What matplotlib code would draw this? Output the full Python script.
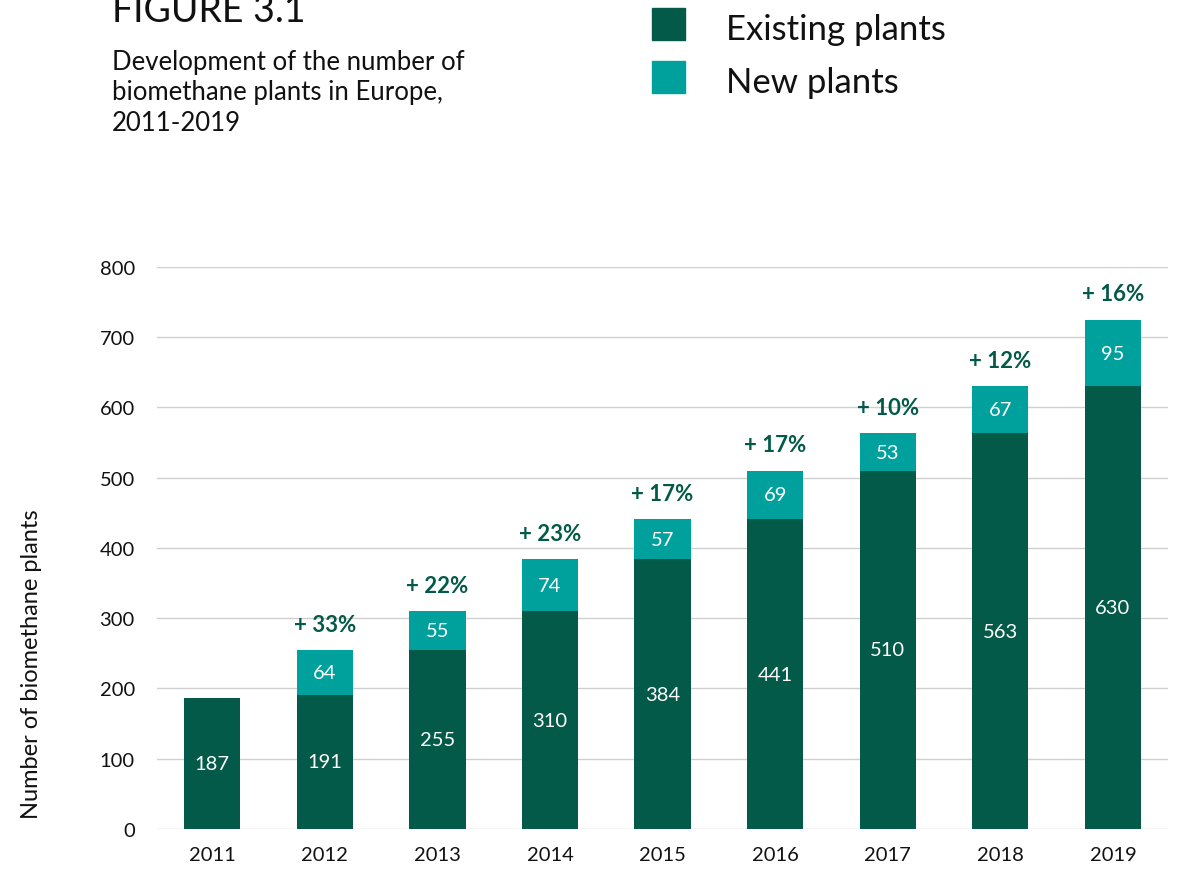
import matplotlib
matplotlib.use("Agg")
import matplotlib.pyplot as plt
from matplotlib.patches import Rectangle
import numpy as np

plt.rcParams['font.family'] = ['Lato', 'DejaVu Sans']

years = ["2011", "2012", "2013", "2014", "2015", "2016", "2017", "2018", "2019"]
existing = [187, 191, 255, 310, 384, 441, 510, 563, 630]
new = [0, 64, 55, 74, 57, 69, 53, 67, 95]
growth = ["", "+ 33%", "+ 22%", "+ 23%", "+ 17%", "+ 17%", "+ 10%", "+ 12%", "+ 16%"]
yticks = [0, 100, 200, 300, 400, 500, 600, 700, 800]

DARK = "#035a48"
TEAL = "#00a19d"
INK = "#111111"

fig = plt.figure(figsize=(11.77, 8.70), dpi=100)
ax = fig.add_axes([0.1334, 0.046, 0.859, 0.646])

x = np.arange(len(years))
w = 0.5
ax.bar(x, existing, width=w, color=DARK, zorder=3)
ax.bar(x, new, width=w, bottom=existing, color=TEAL, zorder=3)

for i in range(len(years)):
    ax.text(x[i], existing[i] / 2, str(existing[i]), ha="center", va="center",
            color="white", fontsize=14.5, zorder=4)
    if new[i]:
        ax.text(x[i], existing[i] + new[i] / 2, str(new[i]), ha="center", va="center",
                color="white", fontsize=14.5, zorder=4)
    if growth[i]:
        # growth label sits just above the stacked bar
        ax.annotate(growth[i], (x[i], existing[i] + new[i]), xytext=(0, 11),
                    textcoords="offset points", ha="center", va="bottom",
                    color=DARK, fontsize=16, fontweight="bold", annotation_clip=False)

ax.set_xlim(-0.49, 8.49)
ax.set_ylim(0, 800)
ax.set_yticks(yticks)
ax.set_xticks(x)
ax.set_xticklabels(years)
ax.tick_params(axis="both", length=0, labelsize=14.5, colors=INK)
ax.tick_params(axis="y", pad=16)
ax.tick_params(axis="x", pad=12)
ax.grid(axis="y", color="#cfcfcf", linewidth=1, zorder=0)
for s in ax.spines.values():
    s.set_visible(False)

fig.text(0.027, 0.236, "Number of biomethane plants", rotation=90, ha="center",
         va="center", fontsize=17, color=INK)

# header
fig.text(0.095, 0.975, "FIGURE 3.1", fontsize=27, color=INK, va="baseline")
fig.text(0.095, 0.943, "Development of the number of\nbiomethane plants in Europe,\n2011-2019",
         fontsize=18.5, color=INK, va="top", linespacing=1.28)

# legend
fig.add_artist(Rectangle((0.554, 0.953), 0.028, 0.037, transform=fig.transFigure,
                         color=DARK))
fig.add_artist(Rectangle((0.554, 0.892), 0.028, 0.037, transform=fig.transFigure,
                         color=TEAL))
fig.text(0.617, 0.966, "Existing plants", fontsize=25, color=INK, va="center")
fig.text(0.617, 0.905, "New plants", fontsize=25, color=INK, va="center")

fig.savefig("out.png", dpi=100)
